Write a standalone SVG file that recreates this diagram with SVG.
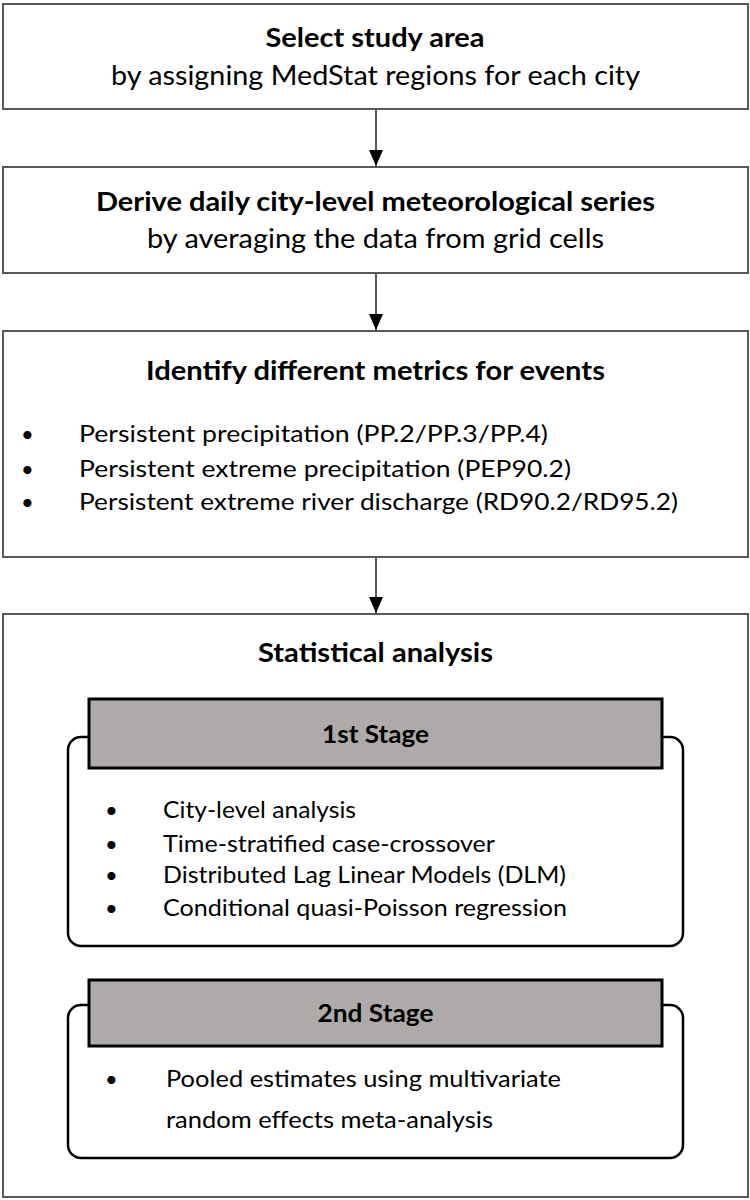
<svg xmlns="http://www.w3.org/2000/svg" width="750" height="1200" viewBox="0 0 750 1200">
<style>
.box{fill:#ffffff;stroke:#595959;stroke-width:2}
.sub{fill:#ffffff;stroke:#000000;stroke-width:2.5}
.hdr{fill:#aeaaaa;stroke:#000000;stroke-width:3}
.t{font-family:Lato,"Open Sans",sans-serif;fill:#000000}
.b{font-weight:bold}
.c{text-anchor:middle}
.conn{stroke:#000000;stroke-width:1.3;fill:none}
</style>
<defs>
<marker id="ah" viewBox="0 0 16 14" refX="16" refY="7" markerWidth="16" markerHeight="14" markerUnits="userSpaceOnUse" orient="auto">
<path d="M0,0 L16,7 L0,14 Z" fill="#000000"/>
</marker>
</defs>
<g id="connectors">
<line class="conn" x1="376" y1="110" x2="376" y2="166" marker-end="url(#ah)"/>
<line class="conn" x1="376" y1="274" x2="376" y2="330" marker-end="url(#ah)"/>
<line class="conn" x1="376" y1="557" x2="376" y2="613" marker-end="url(#ah)"/>
</g>
<g id="node1">
<rect class="box" x="3" y="4" width="745" height="105"/>
<text class="t b c" x="375" y="47" font-size="27" textLength="219" lengthAdjust="spacingAndGlyphs">Select study area</text>
<text class="t c" x="375.5" y="85" font-size="27" textLength="529" lengthAdjust="spacingAndGlyphs">by assigning MedStat regions for each city</text>
</g>
<g id="node2">
<rect class="box" x="3" y="167" width="745" height="106"/>
<text class="t b c" x="375.5" y="211" font-size="27" textLength="559" lengthAdjust="spacingAndGlyphs">Derive daily city-level meteorological series</text>
<text class="t c" x="375.5" y="248" font-size="27" textLength="457" lengthAdjust="spacingAndGlyphs">by averaging the data from grid cells</text>
</g>
<g id="node3">
<rect class="box" x="3" y="331" width="745" height="226"/>
<text class="t b c" x="375.5" y="380" font-size="27" textLength="459" lengthAdjust="spacingAndGlyphs">Identify different metrics for events</text>
<text class="t" x="21" y="442" font-size="22">•</text>
<text class="t" x="79" y="442" font-size="23.5" textLength="469" lengthAdjust="spacingAndGlyphs">Persistent precipitation (PP.2/PP.3/PP.4)</text>
<text class="t" x="21" y="477" font-size="22">•</text>
<text class="t" x="79" y="477" font-size="23.5" textLength="492" lengthAdjust="spacingAndGlyphs">Persistent extreme precipitation (PEP90.2)</text>
<text class="t" x="21" y="510" font-size="22">•</text>
<text class="t" x="79" y="510" font-size="23.5" textLength="599" lengthAdjust="spacingAndGlyphs">Persistent extreme river discharge (RD90.2/RD95.2)</text>
</g>
<g id="node4">
<rect class="box" x="3" y="614" width="745" height="583"/>
<text class="t b c" x="375.5" y="662" font-size="27" textLength="235" lengthAdjust="spacingAndGlyphs">Statistical analysis</text>
</g>
<g id="stage1">
<rect class="sub" x="68" y="737" width="615" height="209" rx="13" ry="13"/>
<rect class="hdr" x="89" y="699" width="573" height="69"/>
<text class="t b c" x="375.5" y="743" font-size="25" textLength="107" lengthAdjust="spacingAndGlyphs">1st Stage</text>
<text class="t" x="105" y="818" font-size="22">•</text>
<text class="t" x="163" y="818" font-size="23.5" textLength="193" lengthAdjust="spacingAndGlyphs">City-level analysis</text>
<text class="t" x="105" y="852" font-size="22">•</text>
<text class="t" x="163" y="852" font-size="23.5" textLength="332" lengthAdjust="spacingAndGlyphs">Time-stratified case-crossover</text>
<text class="t" x="105" y="883" font-size="22">•</text>
<text class="t" x="163" y="883" font-size="23.5" textLength="403" lengthAdjust="spacingAndGlyphs">Distributed Lag Linear Models (DLM)</text>
<text class="t" x="105" y="916" font-size="22">•</text>
<text class="t" x="163" y="916" font-size="23.5" textLength="404" lengthAdjust="spacingAndGlyphs">Conditional quasi-Poisson regression</text>
</g>
<g id="stage2">
<rect class="sub" x="68" y="1005" width="615" height="153" rx="13" ry="13"/>
<rect class="hdr" x="89" y="980" width="573" height="66"/>
<text class="t b c" x="375.5" y="1022" font-size="25" textLength="116" lengthAdjust="spacingAndGlyphs">2nd Stage</text>
<text class="t" x="105" y="1087" font-size="22">•</text>
<text class="t" x="166" y="1087" font-size="23.5" textLength="395" lengthAdjust="spacingAndGlyphs">Pooled estimates using multivariate</text>
<text class="t" x="166" y="1128" font-size="23.5" textLength="327" lengthAdjust="spacingAndGlyphs">random effects meta-analysis</text>
</g>
</svg>
